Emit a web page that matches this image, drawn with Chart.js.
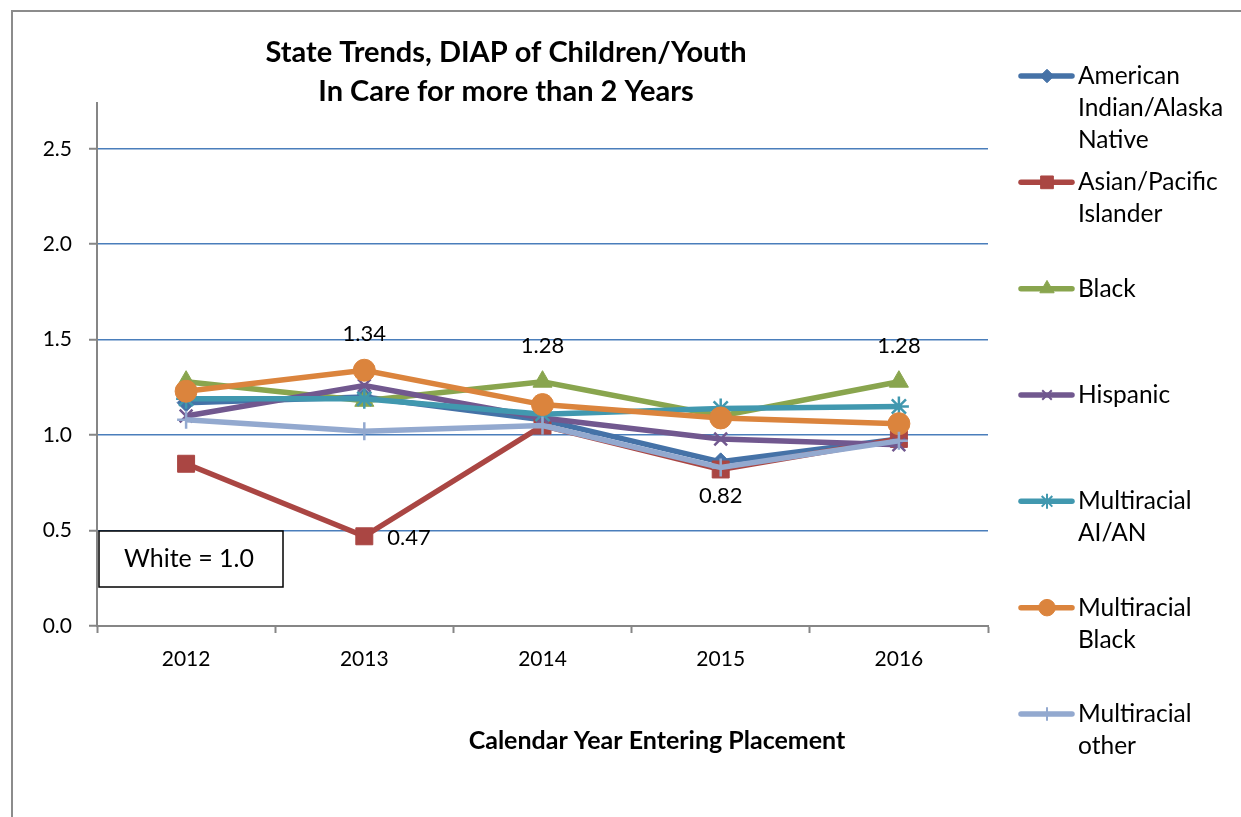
<!DOCTYPE html>
<html lang="en">
  <head>
    <meta charset="UTF-8" />
    <title>State Trends, DIAP</title>
    <style>
      html, body { margin: 0; padding: 0; background: #fff; }
      .wrap { width: 1241px; height: 817px; position: relative; }
    </style>
  </head>
  <body>
    <div class="wrap">
      <canvas id="chart" width="1241" height="817"></canvas>
    </div>

    <script src="https://cdn.jsdelivr.net/npm/chart.js@4/dist/chart.umd.min.js"></script>
    <script>
      // categories + series
      const years = ["2012", "2013", "2014", "2015", "2016"];
      const aian = [1.17, 1.2, 1.08, 0.86, 0.98];
      const asianPI = [0.85, 0.47, 1.05, 0.82, 0.98];
      const black = [1.28, 1.18, 1.28, 1.1, 1.28];
      const hispanic = [1.1, 1.26, 1.09, 0.98, 0.95];
      const multiAIAN = [1.19, 1.19, 1.11, 1.14, 1.15];
      const multiBlack = [1.23, 1.34, 1.16, 1.09, 1.06];
      const multiOther = [1.08, 1.02, 1.05, 0.83, 0.97];

      const seriesNames = [
        ["American", "Indian/Alaska", "Native"],
        ["Asian/Pacific", "Islander"],
        ["Black"],
        ["Hispanic"],
        ["Multiracial", "AI/AN"],
        ["Multiracial", "Black"],
        ["Multiracial", "other"],
      ];
      const yTicks = [0, 0.5, 1.0, 1.5, 2.0, 2.5];
      const yMax = 2.74;

      const titleLines = ["State Trends, DIAP of Children/Youth", "In Care for more than 2 Years"];
      const xTitle = "Calendar Year Entering Placement";
      const noteText = "White = 1.0";

      // which points carry a value label: [series index, year index, side]
      const valueLabels = [
        [5, 1, "top"],
        [1, 1, "right"],
        [2, 2, "top"],
        [2, 4, "top"],
        [1, 3, "bottom"],
      ];

      const allSeries = [aian, asianPI, black, hispanic, multiAIAN, multiBlack, multiOther];
      const colors = ["#4572a7", "#aa4643", "#89a54e", "#71588f", "#4198af", "#db843d", "#93a9cf"];
      const markers = ["rectRot", "rect", "triangle", "crossRot", "star", "circle", "cross"];
      const radii = [9, 12, 11, 9, 10, 11, 9];

      const FONT = "Lato, 'Open Sans', sans-serif";
      const AXIS_GRAY = "#868686";

      const isStroke = (m) => m === "crossRot" || m === "star" || m === "cross";

      const datasets = allSeries.map((d, i) => ({
        label: seriesNames[i].join(" "),
        data: d,
        borderColor: colors[i],
        backgroundColor: colors[i],
        borderWidth: 5.5,
        pointStyle: markers[i],
        pointRadius: radii[i],
        pointHoverRadius: radii[i],
        pointBorderWidth: isStroke(markers[i]) ? 2.5 : 1,
        pointBorderColor: colors[i],
        pointBackgroundColor: colors[i],
        tension: 0,
        order: allSeries.length - i,
      }));

      const decor = {
        id: "decor",
        afterDraw(chart) {
          const ctx = chart.ctx;
          const xs = chart.scales.x;
          const ys = chart.scales.y;
          ctx.save();

          // outer frame (left + top only visible)
          ctx.strokeStyle = "#8c8c8c";
          ctx.lineWidth = 2;
          ctx.beginPath();
          ctx.moveTo(12, 817);
          ctx.lineTo(12, 11);
          ctx.lineTo(1241, 11);
          ctx.stroke();

          // title
          ctx.fillStyle = "#000";
          ctx.textAlign = "center";
          ctx.textBaseline = "middle";
          ctx.font = "bold 29px " + FONT;
          ctx.fillText(titleLines[0], 506, 53);
          ctx.fillText(titleLines[1], 506, 92);

          // x axis title
          ctx.font = "bold 25px " + FONT;
          ctx.fillText(xTitle, 657, 741);

          // value labels
          ctx.font = "22px " + FONT;
          valueLabels.forEach(([s, i, side]) => {
            const v = allSeries[s][i];
            const px = xs.getPixelForValue(i);
            const py = ys.getPixelForValue(v);
            const txt = v.toFixed(2);
            if (side === "top") {
              ctx.textAlign = "center";
              ctx.fillText(txt, px, py - 36);
            } else if (side === "bottom") {
              ctx.textAlign = "center";
              ctx.fillText(txt, px, py + 26);
            } else {
              ctx.textAlign = "left";
              ctx.fillText(txt, px + 23, py + 2);
            }
          });

          // White = 1.0 note box
          ctx.fillStyle = "#fff";
          ctx.fillRect(99, 531, 184, 56);
          ctx.strokeStyle = "#000";
          ctx.lineWidth = 1.5;
          ctx.strokeRect(99, 531, 184, 56);
          ctx.fillStyle = "#000";
          ctx.textAlign = "center";
          ctx.font = "25px " + FONT;
          ctx.fillText(noteText, 189, 559);

          // legend
          const legTop = 76;
          const legStep = (714 - 76) / 6;
          seriesNames.forEach((lines, i) => {
            const y = legTop + i * legStep;
            ctx.strokeStyle = colors[i];
            ctx.lineWidth = 5.5;
            ctx.lineCap = "round";
            ctx.beginPath();
            ctx.moveTo(1021, y);
            ctx.lineTo(1072, y);
            ctx.stroke();
            ctx.lineCap = "butt";
            ctx.fillStyle = colors[i];
            ctx.strokeStyle = colors[i];
            ctx.lineWidth = isStroke(markers[i]) ? 2 : 1;
            Chart.helpers.drawPoint(ctx, { pointStyle: markers[i], radius: radii[i] * 0.75, rotation: 0, borderWidth: ctx.lineWidth }, 1047, y);
            ctx.fillStyle = "#000";
            ctx.textAlign = "left";
            ctx.font = "24.5px " + FONT;
            lines.forEach((t, k) => ctx.fillText(t, 1078, y + k * 32));
          });

          ctx.restore();
        },
      };

      new Chart(document.getElementById("chart"), {
        type: "line",
        data: { labels: years, datasets: datasets },
        plugins: [decor],
        options: {
          responsive: false,
          animation: false,
          layout: { padding: { left: 0, top: 103, right: 253, bottom: 0 } },
          plugins: { legend: { display: false }, title: { display: false }, tooltip: { enabled: false } },
          scales: {
            x: {
              type: "category",
              offset: true,
              afterFit: (s) => { s.height = 191; },
              grid: {
                offset: true,
                drawOnChartArea: false,
                drawTicks: true,
                tickLength: 7,
                tickColor: AXIS_GRAY,
                tickWidth: 2,
              },
              border: { color: AXIS_GRAY, width: 2 },
              ticks: { color: "#000", font: { family: FONT, size: 21 }, padding: 14, maxRotation: 0 },
            },
            y: {
              min: 0,
              max: yMax,
              afterFit: (s) => { s.width = 97; },
              afterBuildTicks: (s) => { s.ticks = yTicks.map((v) => ({ value: v })); },
              grid: {
                color: (c) => (c.tick && c.tick.value === 0 ? "rgba(0,0,0,0)" : "#4a7ebb"),
                lineWidth: 1.5,
                drawTicks: true,
                tickLength: 8,
                tickColor: AXIS_GRAY,
                tickWidth: 2,
              },
              border: { color: AXIS_GRAY, width: 2 },
              ticks: {
                color: "#000",
                font: { family: FONT, size: 21 },
                padding: 17,
                callback: (v) => Number(v).toFixed(1),
              },
            },
          },
        },
      });
    </script>
  </body>
</html>
